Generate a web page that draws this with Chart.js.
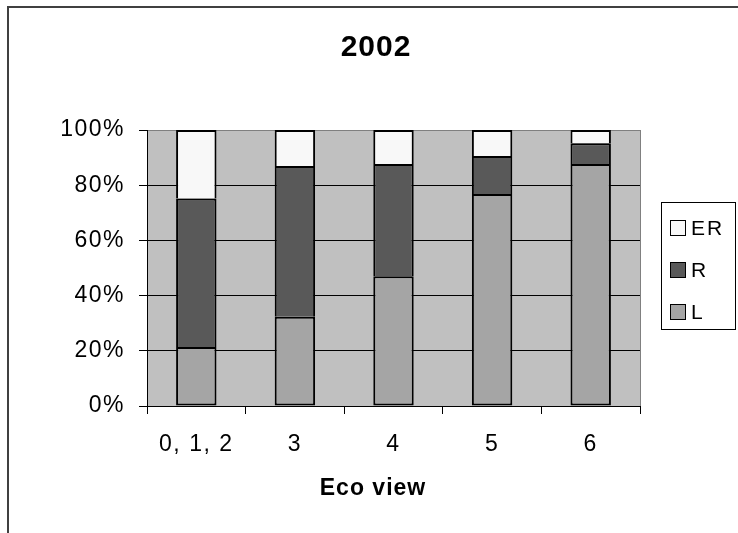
<!DOCTYPE html>
<html>
<head>
<meta charset="utf-8">
<script src="https://cdn.jsdelivr.net/npm/chart.js@4.4.1/dist/chart.umd.min.js"></script>
<style>
  html, body { margin: 0; padding: 0; background: #fff; }
  #wrap { position: relative; width: 738px; height: 533px; }
</style>
</head>
<body>
<div id="wrap"><canvas id="myChart" width="738" height="533"></canvas></div>
<script>
const title = "2002";
const xTitle = "Eco view";
const categories = ["0, 1, 2", "3", "4", "5", "6"];
const yTicks = [0, 20, 40, 60, 80, 100];
// shares in percent, stacked from bottom: L, R, ER
const L = [21.4, 32.3, 47.0, 76.8, 87.7];
const R = [53.8, 54.7, 40.7, 13.8, 7.5];
const ER = [24.8, 13.0, 12.3, 9.4, 4.8];

const font = "'Liberation Sans', Arial, sans-serif";

const decor = {
  id: "decor",
  beforeDraw(chart) {
    const c = chart.ctx, a = chart.chartArea;
    c.fillStyle = "#c0c0c0";
    c.fillRect(a.left, a.top, a.right - a.left, a.bottom - a.top);
    // the old excel text runs a bit wider
    c.letterSpacing = "1.5px";
  },
  afterDraw(chart) {
    const c = chart.ctx, a = chart.chartArea;
    c.save();
    // outer frame (cropped on right and bottom)
    c.strokeStyle = "#404040";
    c.lineWidth = 2;
    c.beginPath();
    c.moveTo(8, 533);
    c.lineTo(8, 7);
    c.lineTo(738, 7);
    c.stroke();
    // plot right edge
    c.strokeStyle = "#808080";
    c.lineWidth = 1;
    c.beginPath();
    c.moveTo(a.right + 0.5, a.top);
    c.lineTo(a.right + 0.5, a.bottom);
    c.stroke();
    // title
    c.fillStyle = "#000";
    c.textAlign = "center";
    c.textBaseline = "middle";
    c.letterSpacing = "1px";
    c.font = "bold 30px " + font;
    c.fillText(title, 376, 48);
    c.font = "bold 23px " + font;
    c.fillText(xTitle, 373, 489);
    // legend
    c.strokeStyle = "#000";
    c.lineWidth = 1;
    c.strokeRect(661.5, 202.5, 74, 127);
    const ds = chart.data.datasets.slice().reverse();
    c.letterSpacing = "2px";
    c.font = "21px " + font;
    c.textAlign = "left";
    ds.forEach((d, i) => {
      const y = 228 + i * 42;
      c.fillStyle = d.backgroundColor;
      c.fillRect(670, y - 8, 16, 16);
      c.strokeRect(670.5, y - 7.5, 15, 15);
      c.fillStyle = "#000";
      c.fillText(d.label, 691, y + 1);
    });
    c.restore();
    c.letterSpacing = "0px";
  }
};

const barOpts = {
  borderColor: "#000",
  borderSkipped: false,
  barPercentage: 0.41,
  categoryPercentage: 1.0
};

new Chart("myChart", {
  type: "bar",
  data: {
    labels: categories,
    datasets: [
      Object.assign({ label: "L", data: L, backgroundColor: "#a5a5a5",
        borderWidth: { top: 2, bottom: 2, left: 2, right: 2 } }, barOpts),
      Object.assign({ label: "R", data: R, backgroundColor: "#595959",
        borderWidth: { top: 2, bottom: 0, left: 2, right: 2 } }, barOpts),
      Object.assign({ label: "ER", data: ER, backgroundColor: "#f8f8f8",
        borderWidth: { top: 2, bottom: 0, left: 2, right: 2 } }, barOpts)
    ]
  },
  options: {
    responsive: false,
    animation: false,
    layout: { padding: { left: 0, top: 130, right: 98, bottom: 0 } },
    plugins: {
      legend: { display: false },
      title: { display: false },
      tooltip: { enabled: false }
    },
    scales: {
      x: {
        stacked: true,
        afterFit: (s) => { s.height = 127; },
        border: { color: "#000", width: 1 },
        grid: {
          offset: true,
          drawOnChartArea: false,
          drawTicks: true,
          tickLength: 8,
          tickColor: "#000"
        },
        ticks: {
          color: "#000",
          padding: 17,
          maxRotation: 0,
          font: { family: font, size: 23 }
        }
      },
      y: {
        stacked: true,
        min: 0,
        max: 100,
        afterFit: (s) => { s.width = 147; },
        afterBuildTicks: (s) => { s.ticks = yTicks.map(v => ({ value: v })); },
        border: { color: "#000", width: 1 },
        grid: {
          color: (ctx) => ctx.tick && ctx.tick.value === 100 ? "#808080" : "#000",
          tickColor: "#000",
          tickLength: 8,
          lineWidth: 1
        },
        ticks: {
          color: "#000",
          padding: 14,
          font: { family: font, size: 23 },
          callback: (v) => v + "%"
        }
      }
    }
  },
  plugins: [decor]
});
</script>
</body>
</html>
